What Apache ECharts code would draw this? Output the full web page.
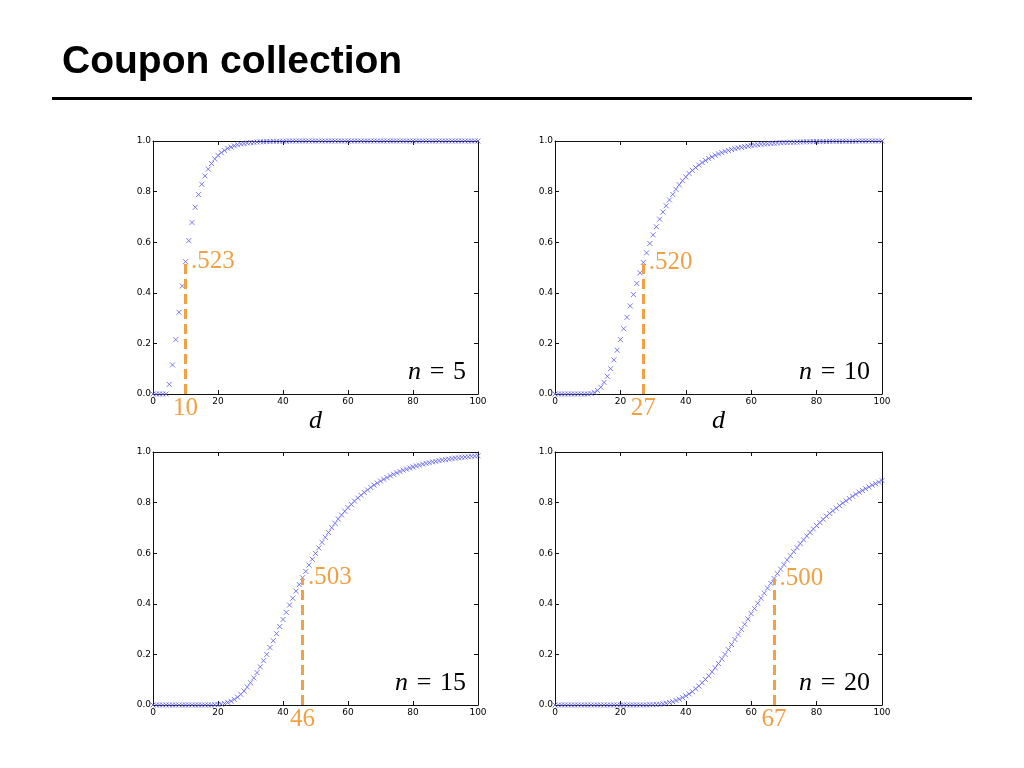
<!DOCTYPE html>
<html>
<head>
<meta charset="utf-8">
<script src="https://cdn.jsdelivr.net/npm/echarts@6/dist/echarts.min.js"></script>
<style>
html,body{margin:0;padding:0;background:#fff;}
#chart{width:1024px;height:768px;}
</style>
</head>
<body>
<div id="chart"></div>
<script>
// Probability that all n coupons are collected after d draws, d = 0..100
const n5 = [
0,0,0,0,0,0.038,0.115,0.215,0.323,0.427,
0.523,0.606,0.678,0.738,0.788,0.829,0.862,0.889,0.911,0.929,
0.943,0.954,0.963,0.971,0.976,0.981,0.985,0.988,0.990,0.992,
0.994,0.995,0.996,0.997,0.997,0.998,0.998,0.999,0.999,0.999,
0.999,0.999,1,1,1,1,1,1,1,1,
1,1,1,1,1,1,1,1,1,1,
1,1,1,1,1,1,1,1,1,1,
1,1,1,1,1,1,1,1,1,1,
1,1,1,1,1,1,1,1,1,1,
1,1,1,1,1,1,1,1,1,1,
1];
const n10 = [
0,0,0,0,0,0,0,0,0,0,
0,0.002,0.006,0.014,0.027,0.046,0.070,0.100,0.135,0.173,
0.215,0.258,0.303,0.348,0.393,0.437,0.479,0.520,0.558,0.595,
0.629,0.661,0.691,0.719,0.744,0.767,0.789,0.809,0.827,0.843,
0.858,0.872,0.884,0.895,0.905,0.915,0.923,0.931,0.937,0.944,
0.949,0.954,0.959,0.963,0.966,0.970,0.973,0.975,0.978,0.980,
0.982,0.984,0.985,0.987,0.988,0.989,0.990,0.991,0.992,0.993,
0.994,0.994,0.995,0.995,0.996,0.996,0.997,0.997,0.997,0.998,
0.998,0.998,0.998,0.998,0.999,0.999,0.999,0.999,0.999,0.999,
0.999,0.999,0.999,1,1,1,1,1,1,1,
1];
const n15 = [
0,0,0,0,0,0,0,0,0,0,
0,0,0,0,0,0,0,0,0,0.001,
0.002,0.003,0.006,0.010,0.015,0.022,0.031,0.042,0.055,0.071,
0.088,0.107,0.128,0.151,0.175,0.200,0.227,0.254,0.282,0.310,
0.338,0.366,0.395,0.422,0.450,0.476,0.503,0.528,0.553,0.576,
0.599,0.621,0.643,0.663,0.682,0.701,0.718,0.735,0.751,0.766,
0.780,0.793,0.806,0.818,0.829,0.840,0.850,0.860,0.869,0.877,
0.885,0.892,0.899,0.906,0.912,0.917,0.923,0.928,0.932,0.937,
0.941,0.945,0.948,0.952,0.955,0.958,0.961,0.963,0.966,0.968,
0.970,0.972,0.974,0.976,0.977,0.979,0.980,0.981,0.983,0.984,
0.985];
const n20 = [
0,0,0,0,0,0,0,0,0,0,
0,0,0,0,0,0,0,0,0,0,
0,0,0,0,0,0,0,0,0,0.001,
0.001,0.002,0.003,0.005,0.007,0.010,0.013,0.018,0.023,0.029,
0.036,0.044,0.053,0.064,0.075,0.088,0.101,0.115,0.131,0.147,
0.164,0.182,0.200,0.219,0.239,0.259,0.279,0.299,0.319,0.340,
0.361,0.381,0.402,0.422,0.442,0.462,0.481,0.500,0.519,0.537,
0.555,0.573,0.590,0.606,0.622,0.638,0.653,0.668,0.682,0.696,
0.709,0.721,0.734,0.746,0.757,0.768,0.778,0.788,0.798,0.807,
0.816,0.825,0.833,0.841,0.848,0.855,0.862,0.869,0.875,0.881,
0.887];

const nValues = [5, 10, 15, 20];
const halfD = [10, 27, 46, 67];       // d where P first passes 1/2
const halfP = [0.523, 0.520, 0.503, 0.500];
const showD = [true, true, false, false];

const seriesData = [n5, n10, n15, n20];
const panels = [
  {left:153, top:141, w:325, h:253},
  {left:555, top:141, w:327, h:253},
  {left:153, top:452, w:325, h:253},
  {left:555, top:452, w:327, h:253}
];

const ORANGE = '#f2a044';
const BLUE = '#5a5af0';
const SERIF = "'Liberation Serif','DejaVu Serif',serif";

const grids = [], xAxes = [], yAxes = [], series = [], graphics = [];
panels.forEach((p, i) => {
  grids.push({left:p.left, top:p.top, width:p.w, height:p.h, show:false});
  const lineSt = {show:true, onZero:false, lineStyle:{color:'#111', width:1}};
  const tickSt = {show:true, inside:true, length:4, lineStyle:{color:'#111', width:1}};
  xAxes.push({gridIndex:i, type:'value', min:0, max:100, interval:20, position:'bottom',
    axisLine:lineSt, axisTick:tickSt, splitLine:{show:false},
    axisLabel:{fontSize:9, fontFamily:'DejaVu Sans', color:'#000', margin:3}});
  xAxes.push({gridIndex:i, type:'value', min:0, max:100, interval:20, position:'top',
    axisLine:lineSt, axisTick:tickSt, splitLine:{show:false}, axisLabel:{show:false}});
  yAxes.push({gridIndex:i, type:'value', min:0, max:1, interval:0.2, position:'left',
    axisLine:lineSt, axisTick:tickSt, splitLine:{show:false},
    axisLabel:{fontSize:9, fontFamily:'DejaVu Sans', color:'#000', margin:2,
      formatter: v => v.toFixed(1)}});
  yAxes.push({gridIndex:i, type:'value', min:0, max:1, interval:0.2, position:'right',
    axisLine:lineSt, axisTick:tickSt, splitLine:{show:false}, axisLabel:{show:false}});

  series.push({
    type:'scatter', xAxisIndex:2*i, yAxisIndex:2*i, clip:false, silent:true,
    data: seriesData[i].map((v, d) => [d, v]),
    symbol:'path://M0,0L10,10M10,0L0,10', symbolSize:5,
    itemStyle:{color:'rgba(0,0,0,0)', borderColor:BLUE, borderWidth:1},
    markLine:{silent:true, symbol:['none','none'], animation:false,
      lineStyle:{color:ORANGE, width:3, type:[10,5]},
      label:{show:false},
      data:[[{coord:[halfD[i], 0]}, {coord:[halfD[i], halfP[i]]}]]},
    markPoint:{silent:true, animation:false, symbol:'circle', symbolSize:1,
      itemStyle:{color:'rgba(0,0,0,0)'},
      data:[
        {coord:[halfD[i], halfP[i]], label:{show:true, position:'right', distance:5,
          formatter: halfP[i].toFixed(3).slice(1), color:ORANGE, fontFamily:SERIF, fontSize:25}},
        {coord:[halfD[i], 0], label:{show:true, position:'bottom', distance:1,
          formatter: String(halfD[i]), color:ORANGE, fontFamily:SERIF, fontSize:25}}
      ]}
  });

  graphics.push({type:'text', x:p.left + p.w - 12, y:p.top + p.h - 22, z:10,
    style:{text:'{i|n}\u2004=\u2004' + nValues[i], align:'right', verticalAlign:'middle',
      textAlign:'right', textVerticalAlign:'middle',
      fontFamily:SERIF, fontSize:26, fill:'#000',
      rich:{i:{fontStyle:'italic', fontFamily:SERIF, fontSize:26, fill:'#000'}}}});
  if (showD[i]) {
    graphics.push({type:'text', x:p.left + p.w/2, y:p.top + p.h + 27, z:10,
      style:{text:'d', align:'center', verticalAlign:'middle',
        textAlign:'center', textVerticalAlign:'middle',
        fontFamily:SERIF, fontStyle:'italic', fontSize:26, fill:'#000'}});
  }
});

graphics.push({type:'text', x:62, y:62, z:10,
  style:{text:'Coupon collection', align:'left', verticalAlign:'middle',
    textAlign:'left', textVerticalAlign:'middle',
    fontFamily:"'Liberation Sans',Arial,sans-serif", fontWeight:'bold', fontSize:39, fill:'#000'}});
graphics.push({type:'line', z:10, shape:{x1:52, y1:98.5, x2:972, y2:98.5},
  style:{stroke:'#000', lineWidth:3}});

const chart = echarts.init(document.getElementById('chart'), null, {renderer:'canvas'});
chart.setOption({
  animation:false,
  backgroundColor:'#fff',
  grid:grids, xAxis:xAxes, yAxis:yAxes, series:series, graphic:graphics
});
</script>
</body>
</html>
